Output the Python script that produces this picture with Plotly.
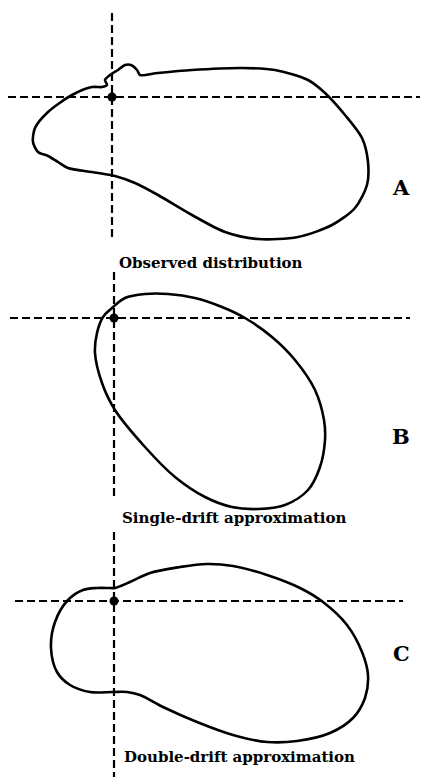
import plotly.graph_objects as go

# outlines, in pixels relative to the marked centre point (y up)
obs_x = [28, 46, 80, 130, 163, 196, 213, 233, 250, 256, 255, 243, 220, 186, 146, 113, 80, 46,
         23, 3, -20, -44, -54, -64, -74, -79, -77, -64, -40, -20, -10, -5, -7, -2, 6, 13, 19,
         25, 28]
obs_y = [22, 24, 27, 29, 27, 17, 4, -18, -41, -65, -88, -111, -128, -140, -142, -135, -118,
         -98, -86, -79, -75, -71, -65, -59, -55, -45, -31, -15, 2, 10, 10, 12, 17, 22, 27, 32,
         32, 27, 22]

single_x = [-2, 11, 31, 54, 81, 108, 131, 158, 181, 201, 210, 211, 206, 194, 171, 144, 118, 91,
            61, 31, 1, -12, -19, -17, -11, -2]
single_y = [10, 20, 24, 24, 20, 11, 0, -19, -42, -72, -102, -122, -149, -172, -187, -191, -189,
            -179, -159, -129, -92, -65, -35, -15, 1, 10]

double_x = [1, 16, 36, 66, 93, 119, 153, 186, 209, 233, 248, 254, 251, 239, 216, 183, 153, 119,
            83, 49, 26, 13, -1, -24, -44, -57, -63, -59, -46, -31, -17, -4, 1]
double_y = [13, 19, 28, 34, 37, 35, 26, 13, -1, -24, -51, -74, -97, -117, -132, -140, -141,
            -134, -121, -106, -94, -91, -91, -91, -84, -71, -47, -21, 1, 11, 13, 13, 13]

panel_letters = ["A", "B", "C"]
captions = ["Observed distribution", "Single-drift approximation", "Double-drift approximation"]

W, H = 424, 777
# per panel: origin in page pixels, top/bottom of panel band, dashed line extents
panels = [
    dict(ox=112, oy=97, top=0, bot=258, h=(-104, 308), v=(84, -143), label_y=173, cap=(117, 263)),
    dict(ox=114, oy=318, top=258, bot=520, h=(-104, 296), v=(46, -182), label_y=437, cap=(120, 529)),
    dict(ox=114, oy=601, top=520, bot=777, h=(-99, 289), v=(69, -176), label_y=668, cap=(122, 768)),
]
outlines = [(obs_x, obs_y), (single_x, single_y), (double_x, double_y)]

fig = go.Figure()
layout_axes = {}
for i, (p, (xs, ys)) in enumerate(zip(panels, outlines)):
    n = "" if i == 0 else str(i + 1)
    xa, ya = "x" + n, "y" + n
    layout_axes["xaxis" + n] = dict(domain=[0, 1], range=[-p["ox"], W - p["ox"]],
                                    visible=False, anchor=ya)
    layout_axes["yaxis" + n] = dict(domain=[1 - p["bot"] / H, 1 - p["top"] / H],
                                    range=[p["oy"] - p["bot"], p["oy"] - p["top"]],
                                    visible=False, anchor=xa)
    dash = dict(color="black", width=2.2, dash="8px,4px")
    fig.add_trace(go.Scatter(x=[p["h"][0], p["h"][1]], y=[0, 0], mode="lines", line=dash,
                             xaxis=xa, yaxis=ya, hoverinfo="skip"))
    fig.add_trace(go.Scatter(x=[0, 0], y=[p["v"][0], p["v"][1]], mode="lines", line=dash,
                             xaxis=xa, yaxis=ya, hoverinfo="skip"))
    fig.add_trace(go.Scatter(x=xs, y=ys, mode="lines",
                             line=dict(color="black", width=2.6, shape="spline",
                                       smoothing=0.8 if i == 0 else 1.0),
                             xaxis=xa, yaxis=ya))
    fig.add_trace(go.Scatter(x=[0], y=[0], mode="markers",
                             marker=dict(color="black", size=9), xaxis=xa, yaxis=ya))
    fig.add_annotation(x=412 / W, y=1 - p["label_y"] / H, xref="paper", yref="paper",
                       text="<b>" + panel_letters[i] + "</b>", showarrow=False,
                       font=dict(family="DejaVu Serif", size=21, color="black"))
    fig.add_annotation(x=p["cap"][0] / W, y=1 - p["cap"][1] / H, xref="paper", yref="paper",
                       xanchor="left", text="<b>" + captions[i] + "</b>", showarrow=False,
                       font=dict(family="DejaVu Serif", size=15, color="black"))

fig.update_layout(width=W, height=H, margin=dict(l=0, r=0, t=0, b=0),
                  plot_bgcolor="white", paper_bgcolor="white", showlegend=False,
                  **layout_axes)

fig.write_html("out.html", config={"displayModeBar": False},
               post_script="document.body.style.margin='0';")
